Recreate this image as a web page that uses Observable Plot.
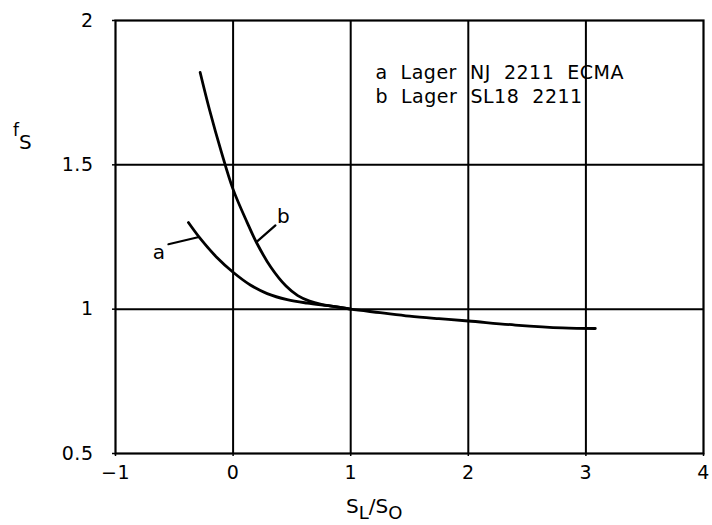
<!DOCTYPE html>
<html>
<head>
<meta charset="utf-8">
<script src="https://cdn.jsdelivr.net/npm/d3@7"></script>
<script src="https://cdn.jsdelivr.net/npm/@observablehq/plot@0.6"></script>
<style>
  html, body { margin: 0; padding: 0; background: #fff; }
  #chart svg { display: block; }
</style>
</head>
<body>
<div id="chart"></div>
<script>
// Curve a: Lager NJ 2211 ECMA
const aX = [-0.38, -0.28, -0.14, 0.0, 0.15, 0.29, 0.46, 0.63, 0.85, 1.0, 1.25, 1.5, 1.75, 2.0, 2.4, 2.8, 3.08];
const aY = [1.30, 1.245, 1.18, 1.128, 1.083, 1.054, 1.033, 1.021, 1.01, 1.0, 0.988, 0.976, 0.967, 0.959, 0.945, 0.935, 0.933];
// Curve b: Lager SL18 2211
const bX = [-0.28, -0.2, -0.1, 0.0, 0.12, 0.2, 0.32, 0.45, 0.55, 0.65, 0.75, 0.87, 1.0];
const bY = [1.82, 1.69, 1.545, 1.415, 1.30, 1.23, 1.146, 1.080, 1.047, 1.028, 1.017, 1.009, 1.0];
// Curve label leaders and labels
const leaderA = [[-0.55, 1.225], [-0.29, 1.25]];
const leaderB = [[0.20, 1.233], [0.36, 1.29]];
const curveLabels = ["a", "b"];
const curveLabelX = [-0.63, 0.43];
const curveLabelY = [1.195, 1.32];
// Legend
const legendText = ["a  Lager  NJ  2211  ECMA", "b  Lager  SL18  2211"];
const legendX = [1.21, 1.21];
const legendY = [1.82, 1.735];
// Axes
const xTicks = [-1, 0, 1, 2, 3, 4];
const yTicks = [0.5, 1, 1.5, 2];
const xGrid = [0, 1, 2, 3];
const yGrid = [1, 1.5];

const a = aX.map((x, i) => ({x, y: aY[i]}));
const b = bX.map((x, i) => ({x, y: bY[i]}));
const labels = curveLabels.map((t, i) => ({t, x: curveLabelX[i], y: curveLabelY[i]}));
const legend = legendText.map((t, i) => ({t, x: legendX[i], y: legendY[i]}));

const font = "DejaVu Sans, sans-serif";
const fmtX = d => d < 0 ? "\u2212" + Math.abs(d) : String(d);

const chart = Plot.plot({
  width: 712,
  height: 525,
  marginLeft: 115,
  marginRight: 9,
  marginTop: 20,
  marginBottom: 72,
  style: {fontFamily: font, fontSize: "19px", color: "#000", background: "#fff"},
  x: {domain: [-1, 4], ticks: xTicks, tickFormat: fmtX, label: null},
  y: {domain: [0.5, 2], ticks: yTicks, tickFormat: d => String(d), label: null},
  marks: [
    Plot.ruleX(xGrid, {stroke: "#000", strokeWidth: 2}),
    Plot.ruleY(yGrid, {stroke: "#000", strokeWidth: 2}),
    Plot.frame({stroke: "#000", strokeWidth: 2.2}),
    Plot.axisX({ticks: xTicks, tickSize: 3, tickPadding: 9, stroke: "#000", strokeWidth: 1.5,
      tickFormat: fmtX, fontSize: 19, label: null}),
    Plot.axisY({ticks: yTicks, tickSize: 3, tickPadding: 19, stroke: "#000", strokeWidth: 1.5,
      tickFormat: d => String(d), fontSize: 19, label: null}),
    Plot.line(a, {x: "x", y: "y", curve: "catmull-rom", stroke: "#000", strokeWidth: 2.8}),
    Plot.line(b, {x: "x", y: "y", curve: "catmull-rom", stroke: "#000", strokeWidth: 2.8}),
    Plot.line(leaderA, {x: d => d[0], y: d => d[1], stroke: "#000", strokeWidth: 2.2}),
    Plot.line(leaderB, {x: d => d[0], y: d => d[1], stroke: "#000", strokeWidth: 2.2}),
    Plot.text(labels, {x: "x", y: "y", text: "t", fontSize: 20, fill: "#000"}),
    Plot.text(legend, {x: "x", y: "y", text: "t", textAnchor: "start", fontSize: 19, fill: "#000"})
  ]
});

const svg = d3.select(chart);
svg.selectAll("text").style("letter-spacing", "0.5px");
// Y axis title f_S
const yt = svg.append("text").attr("x", 13).attr("y", 136)
  .attr("text-anchor", "start")
  .attr("font-family", font).attr("fill", "#000");
yt.append("tspan").attr("font-size", 17).text("f");
yt.append("tspan").attr("font-size", 20).attr("dy", 13).text("S");
// X axis title S_L/S_O
const xt = svg.append("text").attr("x", 346).attr("y", 513)
  .attr("text-anchor", "start")
  .attr("font-family", font).attr("fill", "#000").attr("font-size", 20);
xt.append("tspan").text("S");
xt.append("tspan").attr("dy", 6).attr("font-size", 18).text("L");
xt.append("tspan").attr("dy", -6).text("/S");
xt.append("tspan").attr("dy", 6).attr("font-size", 18).text("O");

document.getElementById("chart").appendChild(chart);
</script>
</body>
</html>
